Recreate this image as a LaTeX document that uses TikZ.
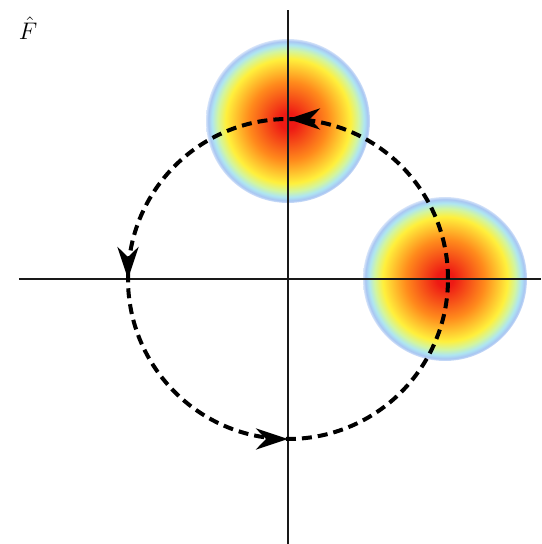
\documentclass[tikz,border=0pt]{standalone}
\usepackage{amsmath}
\usetikzlibrary{arrows.meta,decorations.markings}
\definecolor{blobred}{HTML}{EE1A14}
\definecolor{bloborange}{HTML}{FF8A1C}
\definecolor{blobyellow}{HTML}{FFF03C}
\definecolor{blobgreen}{HTML}{D2F5A0}
\definecolor{blobcyan}{HTML}{AEE6F2}
\definecolor{blobblue}{HTML}{A9C6F2}
\pgfdeclareradialshading{blob}{\pgfpoint{0bp}{0bp}}{%
  color(0bp)=(blobred); color(2.5bp)=(blobred);
  color(12bp)=(bloborange); color(19bp)=(blobyellow);
  color(21.5bp)=(blobgreen); color(23.2bp)=(blobcyan);
  color(24.3bp)=(blobblue); color(25bp)=(blobblue!50!white);
  color(26bp)=(white); color(50bp)=(white)}

\begin{document}
\begin{tikzpicture}[
  x=0.5pt,y=0.5pt,
  axis/.style={draw=black!90,line width=0.85pt},
  orbit/.style={line width=2pt,dash pattern=on 5pt off 3pt},
  spot/.style={shading=blob},
  turn/.style={postaction={decorate,decoration={markings,
    mark=at position 0.25 with {\arrow{Stealth[length=16pt,width=10.5pt,inset=5pt]}},
    mark=at position 0.5 with {\arrow{Stealth[length=16pt,width=10.5pt,inset=5pt]}},
    mark=at position 0.75 with {\arrow{Stealth[length=16pt,width=10.5pt,inset=5pt]}}}}}
]
\useasboundingbox (-288,-265) rectangle (253,279);

% spots on the orbit
\coordinate (o) at (0,0);
\coordinate (topspot) at (0,158);
\coordinate (rightspot) at (157,0);
\shade[spot] (topspot) circle (82);
\shade[spot] (rightspot) circle (82);

% axes
\coordinate (xl) at (-269,0);
\coordinate (xr) at (253,0);
\coordinate (yt) at (0,269);
\coordinate (yb) at (0,-265);
\draw[axis] (xl) -- (xr);
\draw[axis] (yb) -- (yt);

% orbit
\draw[orbit,turn] (o) circle (160);

\node[font=\fontsize{13}{15}\selectfont] (flabel) at (-260,251) {$\hat{F}$};
\end{tikzpicture}
\end{document}
